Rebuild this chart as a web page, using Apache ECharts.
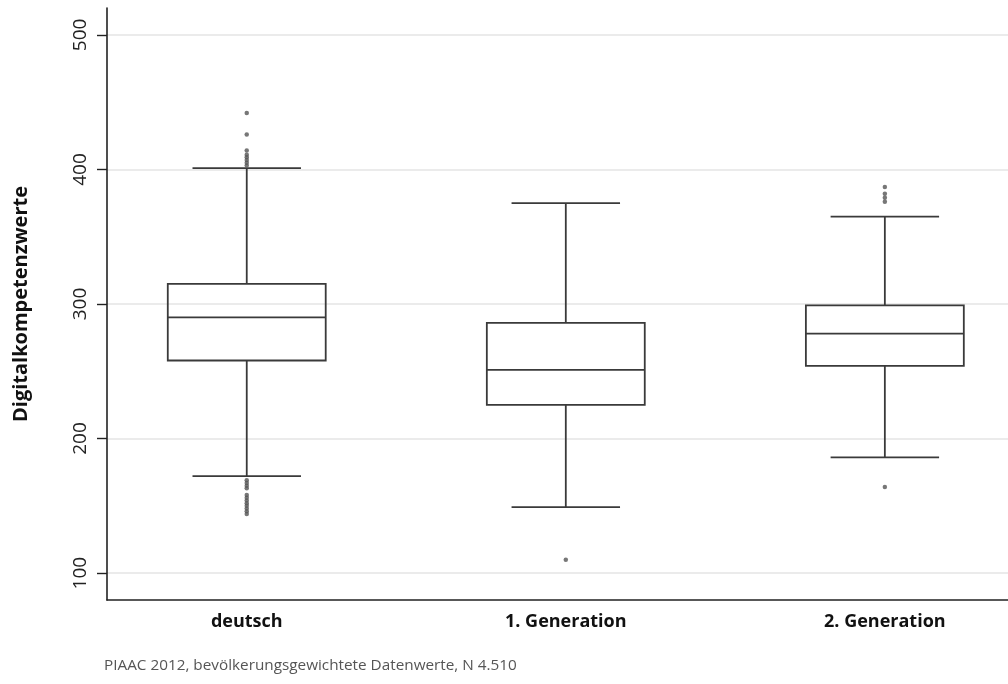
<!DOCTYPE html>
<html><head><meta charset="utf-8">
<script src="https://cdn.jsdelivr.net/npm/echarts@6/dist/echarts.min.js"></script>
<style>html,body{margin:0;padding:0;background:#fff}#c{width:1008px;height:684px}</style>
</head><body><div id="c"></div>
<script>
const categories = ['deutsch', '1. Generation', '2. Generation'];
const whiskerLow = [172, 149, 186];
const q1 = [258, 225, 254];
const median = [290, 251, 278];
const q3 = [315, 286, 299];
const whiskerHigh = [401, 375, 365];
const outliersDeutsch = [442, 426, 414, 411, 409, 407, 405, 403, 169, 167, 165, 163, 158, 156, 154, 152, 150, 148, 146, 144];
const outliersGen1 = [110];
const outliersGen2 = [387, 382, 379, 376, 164];
const yTicks = [100, 200, 300, 400, 500];
const footer = 'PIAAC 2012, bevölkerungsgewichtete Datenwerte, N 4.510';

const outlierGroups = [outliersDeutsch, outliersGen1, outliersGen2];
const boxData = categories.map((c, i) => [i, whiskerLow[i], q1[i], median[i], q3[i], whiskerHigh[i]]);
const outlierData = [];
outlierGroups.forEach((arr, i) => arr.forEach(v => outlierData.push([i, v])));

const STROKE = '#3a3a3a';
const LW = 1.8;
const BOX_FRAC = 0.495;
const CAP_FRAC = 0.34;
const FONT = '"Open Sans", Lato, sans-serif';

const chart = echarts.init(document.getElementById('c'));
chart.setOption({
  animation: false,
  backgroundColor: '#fff',
  grid: { left: 107, right: 0, top: 8, bottom: 84 },
  xAxis: {
    type: 'value', min: -0.438, max: 2.386,
    axisLine: { show: true, onZero: false, lineStyle: { color: '#222', width: 1.6 } },
    axisTick: { show: false },
    splitLine: { show: false },
    axisLabel: {
      customValues: [0, 1, 2],
      formatter: v => categories[Math.round(v)],
      fontFamily: FONT, fontWeight: 'bold', fontSize: 18, color: '#111', margin: 13
    }
  },
  yAxis: {
    type: 'value', min: 80, max: 520,
    name: 'Digitalkompetenzwerte', nameLocation: 'middle', nameRotate: 90, nameGap: 76,
    nameTextStyle: { fontFamily: FONT, fontWeight: 'bold', fontSize: 20, color: '#111' },
    axisLine: { show: true, onZero: false, lineStyle: { color: '#222', width: 1.6 } },
    axisTick: { show: true, customValues: yTicks, length: 10, lineStyle: { color: '#222', width: 1.4 } },
    axisLabel: { customValues: yTicks, rotate: 90, margin: 17, fontFamily: FONT, fontSize: 19, color: '#222' },
    splitLine: { show: true, lineStyle: { color: '#e4e4e4', width: 1.5 } }
  },
  graphic: [{
    type: 'text', left: 104, top: 658,
    style: { text: footer, font: '15.3px "Open Sans"', fill: '#555' }
  }],
  series: [{
    type: 'custom',
    data: boxData,
    encode: { x: 0, y: [1, 2, 3, 4, 5] },
    renderItem: function (params, api) {
      const x = api.value(0);
      const unit = api.size([1, 0])[0];
      const bw = unit * BOX_FRAC, cw = unit * CAP_FRAC;
      const pLow = api.coord([x, api.value(1)]);
      const pQ1 = api.coord([x, api.value(2)]);
      const pMed = api.coord([x, api.value(3)]);
      const pQ3 = api.coord([x, api.value(4)]);
      const pHigh = api.coord([x, api.value(5)]);
      const cx = pLow[0];
      const st = { stroke: STROKE, lineWidth: LW, fill: null };
      return {
        type: 'group',
        children: [
          { type: 'rect', shape: { x: cx - bw / 2, y: pQ3[1], width: bw, height: pQ1[1] - pQ3[1] }, style: { stroke: STROKE, lineWidth: LW, fill: 'rgba(0,0,0,0)' } },
          { type: 'line', shape: { x1: cx - bw / 2, y1: pMed[1], x2: cx + bw / 2, y2: pMed[1] }, style: st },
          { type: 'line', shape: { x1: cx, y1: pQ3[1], x2: cx, y2: pHigh[1] }, style: st },
          { type: 'line', shape: { x1: cx, y1: pQ1[1], x2: cx, y2: pLow[1] }, style: st },
          { type: 'line', shape: { x1: cx - cw / 2, y1: pHigh[1], x2: cx + cw / 2, y2: pHigh[1] }, style: st },
          { type: 'line', shape: { x1: cx - cw / 2, y1: pLow[1], x2: cx + cw / 2, y2: pLow[1] }, style: st }
        ]
      };
    }
  }, {
    type: 'scatter',
    data: outlierData,
    symbol: 'circle',
    symbolSize: 4.5,
    itemStyle: { color: '#555' }
  }]
});
</script>
</body></html>
